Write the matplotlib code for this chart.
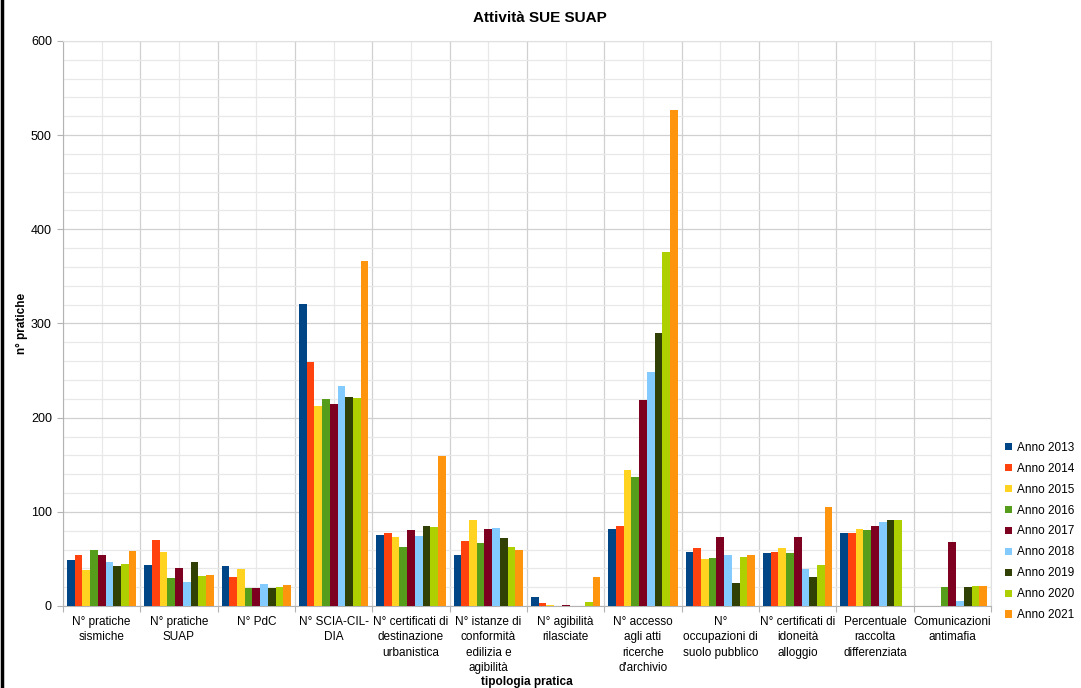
import matplotlib
matplotlib.use("Agg")
import matplotlib.pyplot as plt
from matplotlib.ticker import MultipleLocator, FixedLocator, NullFormatter
from matplotlib.patches import Patch
from matplotlib.lines import Line2D
import numpy as np

plt.rcParams['font.family'] = ['Liberation Sans', 'DejaVu Sans']

categories = [
    "N° pratiche\nsismiche",
    "N° pratiche\nSUAP",
    "N° PdC",
    "N° SCIA-CIL-\nDIA",
    "N° certificati di\ndestinazione\nurbanistica",
    "N° istanze di\nconformità\nedilizia e\nagibilità",
    "N° agibilità\nrilasciate",
    "N° accesso\nagli atti\nricerche\nd'archivio",
    "N°\noccupazioni di\nsuolo pubblico",
    "N° certificati di\nidoneità\nalloggio",
    "Percentuale\nraccolta\ndifferenziata",
    "Comunicazioni\nantimafia",
]

series_names = ["Anno 2013", "Anno 2014", "Anno 2015", "Anno 2016", "Anno 2017",
                "Anno 2018", "Anno 2019", "Anno 2020", "Anno 2021"]

anno_2013 = [49, 44, 42, 321, 75, 54, 10, 82, 57, 56, 78, 0]
anno_2014 = [54, 70, 31, 259, 78, 69, 3, 85, 62, 57, 78, 0]
anno_2015 = [38, 57, 39, 212, 73, 91, 1, 144, 50, 62, 82, 0]
anno_2016 = [60, 30, 19, 220, 63, 67, 0, 137, 51, 56, 81, 20]
anno_2017 = [54, 40, 19, 214, 81, 82, 1, 219, 73, 73, 85, 68]
anno_2018 = [47, 25, 23, 234, 74, 83, 0, 249, 54, 39, 89, 5]
anno_2019 = [42, 47, 19, 222, 85, 72, 0, 290, 24, 31, 91, 20]
anno_2020 = [45, 32, 20, 221, 84, 63, 4, 376, 52, 44, 91, 21]
anno_2021 = [58, 33, 22, 366, 159, 59, 31, 527, 54, 105, 0, 21]

values = [anno_2013, anno_2014, anno_2015, anno_2016, anno_2017,
          anno_2018, anno_2019, anno_2020, anno_2021]

colors = ["#004586", "#ff420e", "#ffd320", "#579d1c", "#7e0021",
          "#83caff", "#314004", "#aecf00", "#ff950e"]

fig = plt.figure(figsize=(10.81, 6.88), dpi=100)
ax = fig.add_axes([63 / 1081, 1 - 606 / 688, (991 - 63) / 1081, (606 - 41) / 688])

n_cat = len(categories)
n_ser = len(values)
x = np.arange(n_cat)
bw = 0.1
for i, (vals, col) in enumerate(zip(values, colors)):
    offs = (i - (n_ser - 1) / 2) * bw
    ax.bar(x + offs, vals, width=bw, color=col, label=series_names[i], zorder=3,
           linewidth=0)

ax.set_xlim(-0.5, n_cat - 0.5)
ax.set_ylim(0, 600)

# grid
ax.yaxis.set_major_locator(MultipleLocator(100))
ax.yaxis.set_minor_locator(MultipleLocator(20))
ax.xaxis.set_major_locator(FixedLocator(np.arange(-0.5, n_cat, 1.0)))
ax.xaxis.set_minor_locator(FixedLocator(x))
ax.xaxis.set_major_formatter(NullFormatter())
ax.set_xticks(x, categories, minor=True)
ax.grid(which='major', color='#d0d0d0', linewidth=0.9, zorder=0)
ax.grid(which='minor', color='#e8e8e8', linewidth=0.9, zorder=0)
ax.set_axisbelow(True)

ax.tick_params(axis='x', which='major', length=4, color='#b3b3b3', direction='out')
ax.tick_params(axis='x', which='minor', length=0, labelsize=8.5, pad=7, labelcolor='#000000')
ax.tick_params(axis='y', which='major', length=4, color='#b3b3b3', labelsize=9, pad=4)
ax.tick_params(axis='y', which='minor', length=0)
for lbl in ax.get_xticklabels(minor=True):
    lbl.set_linespacing(1.38)
    lbl.set_verticalalignment('top')

for s in ['top', 'right']:
    ax.spines[s].set_color('#e0e0e0')
for s in ['left', 'bottom']:
    ax.spines[s].set_color('#b3b3b3')

fig.text(540 / 1081, 1 - 18 / 688, "Attività SUE SUAP", ha='center', va='center',
         fontsize=11, fontweight='bold')
fig.text(22 / 1081, 1 - 323 / 688, "n° pratiche", ha='center', va='center',
         rotation=90, fontsize=8.5, fontweight='bold')
fig.text(527 / 1081, 1 - 682 / 688, "tipologia pratica", ha='center', va='center',
         fontsize=8.5, fontweight='bold')

handles = [Patch(facecolor=c, edgecolor='none') for c in colors]
fig.legend(handles, series_names, loc='center left',
           bbox_to_anchor=(1005 / 1081, 1 - 531.5 / 688), frameon=False,
           fontsize=8.5, handlelength=0.6, handleheight=0.6, handletextpad=0.4,
           labelspacing=0.76, borderaxespad=0, borderpad=0)

# figure left border
fig.add_artist(Line2D([1.5 / 1081, 1.5 / 1081], [0, 1], transform=fig.transFigure,
                      color='black', linewidth=2.5))

fig.savefig("out.png", dpi=100)
